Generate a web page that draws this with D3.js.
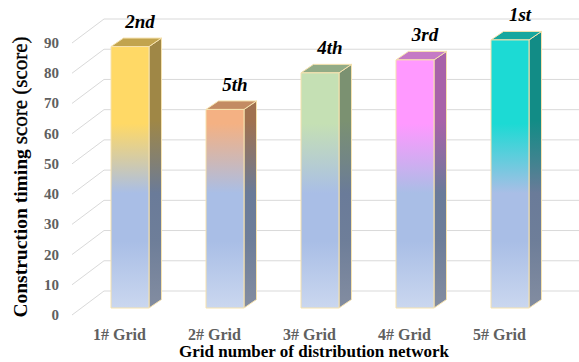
<!DOCTYPE html>
<html>
<head>
<meta charset="utf-8">
<script src="https://cdn.jsdelivr.net/npm/d3@7"></script>
<style>
  html, body { margin: 0; padding: 0; background: #fff; }
  svg { display: block; }
</style>
</head>
<body>
<svg id="chart" width="579" height="362"></svg>
<script>
// Construction timing score per distribution-network grid
const categories = ["1# Grid", "2# Grid", "3# Grid", "4# Grid", "5# Grid"];
const scores = [86.5, 65.7, 77.8, 82.1, 88.7];
const ranks = ["2nd", "5th", "4th", "3rd", "1st"];
const yTicks = [0, 10, 20, 30, 40, 50, 60, 70, 80, 90];

// Face colours per bar: front top colour, top face, side face top colour
const frontColors = ["#FFD966", "#F4B183", "#C5E0B4", "#FF99FF", "#1CDAD4"];
const topColors   = ["#C2A44E", "#C38B63", "#92AB86", "#C57AC5", "#17A79E"];
const sideColors  = ["#9F8746", "#A0714F", "#7B9171", "#A862A8", "#128C86"];

const svg = d3.select("#chart");
const W = 579, H = 362;
const serif = "Liberation Serif, Times New Roman, serif";

// Oblique projection of the wall depth
const wallDX = 32, wallDY = -24;
// Bars sit partway into the depth
const barShiftX = 10.5, barShiftY = -7;
const barDX = 12.5, barDY = -8.5;

const x = d3.scaleBand().domain(categories).range([72, 547]).paddingInner(0).paddingOuter(0);
const y = d3.scaleLinear().domain([0, 90]).range([315, 43]);
const barW = x.bandwidth() * 0.4;

const defs = svg.append("defs");

// Left side wall diagonals and back wall gridlines
const grid = svg.append("g").attr("stroke", "#D9D9D9").attr("stroke-width", 1).attr("fill", "none");
yTicks.forEach(t => {
  const y0 = y(t);
  grid.append("path")
    .attr("d", `M72,${y0}L${72 + wallDX},${y0 + wallDY}L${W},${y0 + wallDY}`);
});

// Y tick labels
svg.append("g").selectAll("text").data(yTicks).join("text")
  .attr("x", 59).attr("y", d => y(d) + 5)
  .attr("text-anchor", "end")
  .attr("font-family", serif)
  .attr("font-weight", "bold").attr("font-size", 15)
  .attr("fill", "#606060")
  .text(d => d);

// Gradients: fixed in plot space so the colour change sits at the same height on every bar
function frontGrad(i) {
  const g = defs.append("linearGradient").attr("id", "gf" + i)
    .attr("gradientUnits", "userSpaceOnUse")
    .attr("x1", 0).attr("x2", 0)
    .attr("y1", y(90) + barShiftY).attr("y2", y(0) + barShiftY);
  const c = frontColors[i];
  const blue = "#A9BEE6";
  const mix = d3.interpolateRgb(c, blue)(0.55);
  const stops = [[0, c], [1 - 61 / 90, c], [1 - 48 / 90, mix], [1 - 38 / 90, blue], [1 - 22 / 90, blue], [1, "#CAD7EF"]];
  stops.forEach(s => g.append("stop").attr("offset", s[0]).attr("stop-color", s[1]));
}
function sideGrad(i) {
  const g = defs.append("linearGradient").attr("id", "gs" + i)
    .attr("gradientUnits", "userSpaceOnUse")
    .attr("x1", 0).attr("x2", 0)
    .attr("y1", y(90) + barShiftY).attr("y2", y(0) + barShiftY);
  const c = sideColors[i];
  const blue = "#6A7B99";
  const mix = d3.interpolateRgb(c, blue)(0.55);
  const stops = [[0, c], [1 - 62 / 90, c], [1 - 48 / 90, mix], [1 - 38 / 90, blue], [1 - 22 / 90, "#6E7E99"], [1, "#838DA1"]];
  stops.forEach(s => g.append("stop").attr("offset", s[0]).attr("stop-color", s[1]));
}

const bars = svg.append("g");
categories.forEach((c, i) => {
  frontGrad(i); sideGrad(i);
  const x0 = x(c) + (x.bandwidth() - barW) / 2 + barShiftX;
  const x1 = x0 + barW;
  const yt = y(scores[i]) + barShiftY;
  const yb = y(0) + barShiftY;
  const g = bars.append("g").attr("stroke", "#F6E2AE").attr("stroke-width", 1).attr("stroke-linejoin", "round");
  // side face
  g.append("path").attr("fill", `url(#gs${i})`)
    .attr("d", `M${x1},${yt}L${x1 + barDX},${yt + barDY}L${x1 + barDX},${yb + barDY}L${x1},${yb}Z`);
  // top face
  g.append("path").attr("fill", topColors[i])
    .attr("d", `M${x0},${yt}L${x0 + barDX},${yt + barDY}L${x1 + barDX},${yt + barDY}L${x1},${yt}Z`);
  // front face
  g.append("rect").attr("fill", `url(#gf${i})`)
    .attr("x", x0).attr("y", yt).attr("width", barW).attr("height", yb - yt);
  // rank label
  svg.append("text")
    .attr("x", (x0 + x1) / 2 + 10).attr("y", yt + barDY - 10)
    .attr("text-anchor", "middle")
    .attr("font-family", serif)
    .attr("font-weight", "bold").attr("font-style", "italic").attr("font-size", 19)
    .attr("fill", "#000")
    .text(ranks[i]);
});

// Category labels
svg.append("g").selectAll("text").data(categories).join("text")
  .attr("x", d => x(d) + x.bandwidth() / 2).attr("y", 340)
  .attr("text-anchor", "middle")
  .attr("font-family", serif)
  .attr("font-weight", "bold").attr("font-size", 16)
  .attr("fill", "#606060")
  .text(d => d);

// Axis titles
svg.append("text")
  .attr("x", 314).attr("y", 357)
  .attr("text-anchor", "middle")
  .attr("font-family", serif)
  .attr("font-weight", "bold").attr("font-size", 17)
  .attr("fill", "#000")
  .text("Grid number of distribution network");

const yTitle = svg.append("text")
  .attr("transform", "translate(27,177) rotate(-90)")
  .attr("text-anchor", "middle")
  .attr("font-family", serif)
  .attr("fill", "#000");
yTitle.append("tspan").attr("font-weight", "bold").attr("font-size", 19.5).text("Construction timing ");
yTitle.append("tspan").attr("font-weight", "normal").attr("font-size", 21)
  .attr("stroke", "#000").attr("stroke-width", 0.35).text("score (score)");
</script>
</body>
</html>
